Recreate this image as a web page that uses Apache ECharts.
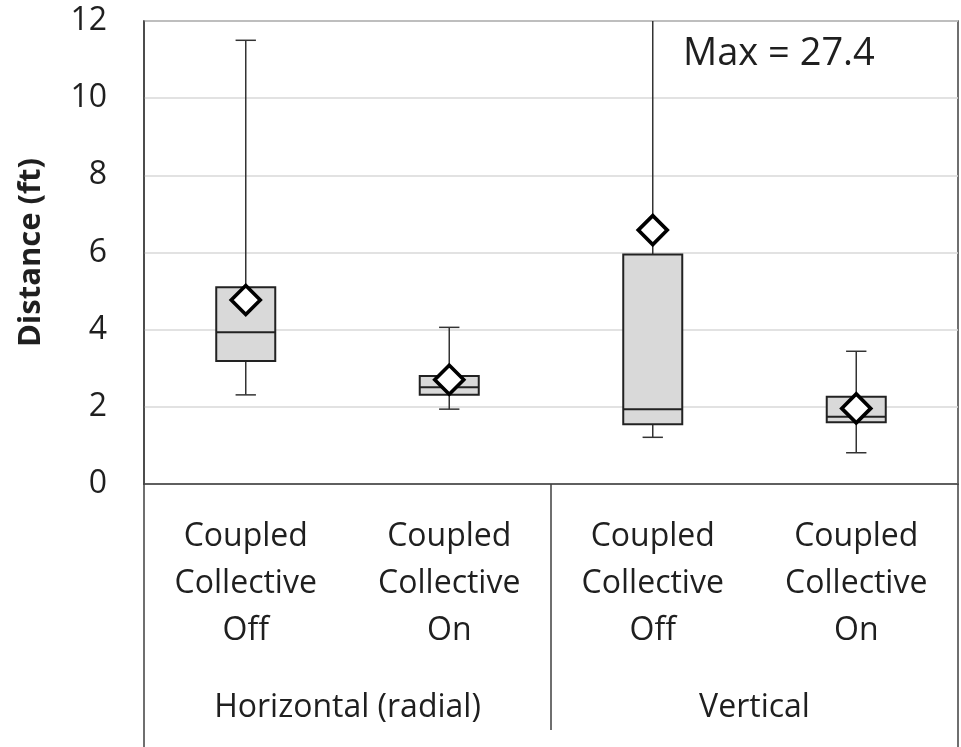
<!DOCTYPE html>
<html>
<head>
<meta charset="utf-8">
<title>Distance box plot</title>
<script src="https://cdn.jsdelivr.net/npm/echarts@6/dist/echarts.min.js"></script>
<style>
  html, body { margin: 0; padding: 0; background: #fff; }
  #chart { width: 961px; height: 747px; }
</style>
</head>
<body>
<div id="chart"></div>
<script>
// Conditions (lower axis level) and groups (upper axis level)
const categories = [
  'Coupled\nCollective\nOff',
  'Coupled\nCollective\nOn',
  'Coupled\nCollective\nOff',
  'Coupled\nCollective\nOn'
];
const groups = ['Horizontal (radial)', 'Vertical'];

// Five-number summaries and means, in feet
const whiskerLow  = [2.31, 1.94, 1.21, 0.81];
const quartile1   = [3.19, 2.31, 1.55, 1.60];
const medians     = [3.93, 2.51, 1.94, 1.74];
const quartile3   = [5.10, 2.80, 5.95, 2.26];
const whiskerHigh = [11.5, 4.06, 27.4, 3.44];
const means       = [4.77, 2.70, 6.58, 1.96];

// Value axis range
const yMin = 0, yMax = 12, yStep = 2;

const FONT = '"Open Sans", "DejaVu Sans", sans-serif';
const TEXT = '#1f1f1f';
const FRAME = '#404040';

const boxData = categories.map((_, i) =>
  [i, whiskerLow[i], quartile1[i], medians[i], quartile3[i], whiskerHigh[i]]);
const meanData = categories.map((_, i) => [i, means[i]]);

// Index of the box whose upper whisker runs past the axis top
const clippedIdx = whiskerHigh.findIndex(v => v > yMax);

const chart = echarts.init(document.getElementById('chart'), null, { renderer: 'canvas' });

function renderBox(params, api) {
  const i = api.value(0);
  const band = api.size([1, 0])[0];
  const boxW = band * 0.29;
  const capW = band * 0.1;
  const pLow = api.coord([i, api.value(1)]);
  const pQ1 = api.coord([i, api.value(2)]);
  const pMed = api.coord([i, api.value(3)]);
  const pQ3 = api.coord([i, api.value(4)]);
  const pHigh = api.coord([i, api.value(5)]);
  const cx = pLow[0];
  const whisker = { stroke: '#333', lineWidth: 1.5 };
  const edge = { stroke: '#222', lineWidth: 2 };
  return {
    type: 'group',
    children: [
      { type: 'line', shape: { x1: cx, y1: pQ3[1], x2: cx, y2: pHigh[1] }, style: whisker },
      { type: 'line', shape: { x1: cx, y1: pQ1[1], x2: cx, y2: pLow[1] }, style: whisker },
      { type: 'line', shape: { x1: cx - capW / 2, y1: pHigh[1], x2: cx + capW / 2, y2: pHigh[1] }, style: whisker },
      { type: 'line', shape: { x1: cx - capW / 2, y1: pLow[1], x2: cx + capW / 2, y2: pLow[1] }, style: whisker },
      { type: 'rect', shape: { x: cx - boxW / 2, y: pQ3[1], width: boxW, height: pQ1[1] - pQ3[1] },
        style: { fill: '#d9d9d9', stroke: edge.stroke, lineWidth: edge.lineWidth } },
      { type: 'line', shape: { x1: cx - boxW / 2, y1: pMed[1], x2: cx + boxW / 2, y2: pMed[1] }, style: edge }
    ]
  };
}

const gridLeft = 144, gridRight = 3, gridTop = 21, gridBottom = 263;

const option = {
  backgroundColor: '#fff',
  animation: false,
  grid: {
    left: gridLeft, right: gridRight, top: gridTop, bottom: gridBottom,
    show: true, borderColor: FRAME, borderWidth: 1.5, backgroundColor: 'transparent'
  },
  xAxis: [
    {
      type: 'category', data: categories, position: 'bottom', boundaryGap: true,
      axisLine: { show: true, lineStyle: { color: FRAME, width: 1.5 } },
      axisTick: { show: false },
      axisLabel: { interval: 0, margin: 29, fontFamily: FONT, fontSize: 32, lineHeight: 47, color: TEXT, align: 'center' },
      splitLine: { show: false }
    },
    {
      type: 'category', data: groups, position: 'bottom', boundaryGap: true,
      axisLine: { show: false },
      axisTick: { show: true, length: 246, lineStyle: { color: FRAME, width: 1.5 } },
      axisLabel: { interval: 0, margin: 200, fontFamily: FONT, fontSize: 32, lineHeight: 47, color: TEXT },
      splitLine: { show: false }
    },
    {
      // outer frame of the two-level category area
      type: 'category', data: [''], position: 'bottom', boundaryGap: true,
      axisLine: { show: false },
      axisTick: { show: true, length: 263, lineStyle: { color: FRAME, width: 1.5 } },
      axisLabel: { show: false },
      splitLine: { show: false }
    }
  ],
  yAxis: {
    type: 'value', min: yMin, max: yMax, interval: yStep,
    name: 'Distance (ft)', nameLocation: 'middle', nameRotate: 90, nameGap: 97,
    nameTextStyle: { fontFamily: FONT, fontSize: 31, fontWeight: 'bold', color: TEXT },
    axisLine: { show: true, lineStyle: { color: FRAME, width: 1.5 } },
    axisTick: { show: false },
    axisLabel: { margin: 37, fontFamily: FONT, fontSize: 32, color: TEXT },
    splitLine: { show: true, lineStyle: { color: '#d9d9d9', width: 1.5 } }
  },
  series: [
    {
      type: 'custom', name: 'box', xAxisIndex: 0,
      clip: true,
      data: boxData,
      encode: { x: 0, y: [1, 2, 3, 4, 5] },
      renderItem: renderBox,
      z: 2
    },
    {
      type: 'scatter', name: 'mean', xAxisIndex: 0,
      data: meanData,
      symbol: 'diamond', symbolSize: 29,
      itemStyle: { color: '#fff', borderColor: '#000', borderWidth: 3.6, opacity: 1 },
      z: 3
    }
  ],
  graphic: clippedIdx >= 0 ? [{
    type: 'text', left: 683, top: 35, z: 10,
    style: { text: 'Max = ' + whiskerHigh[clippedIdx], font: '38px ' + FONT, fill: TEXT }
  }] : []
};

chart.setOption(option);
</script>
</body>
</html>
